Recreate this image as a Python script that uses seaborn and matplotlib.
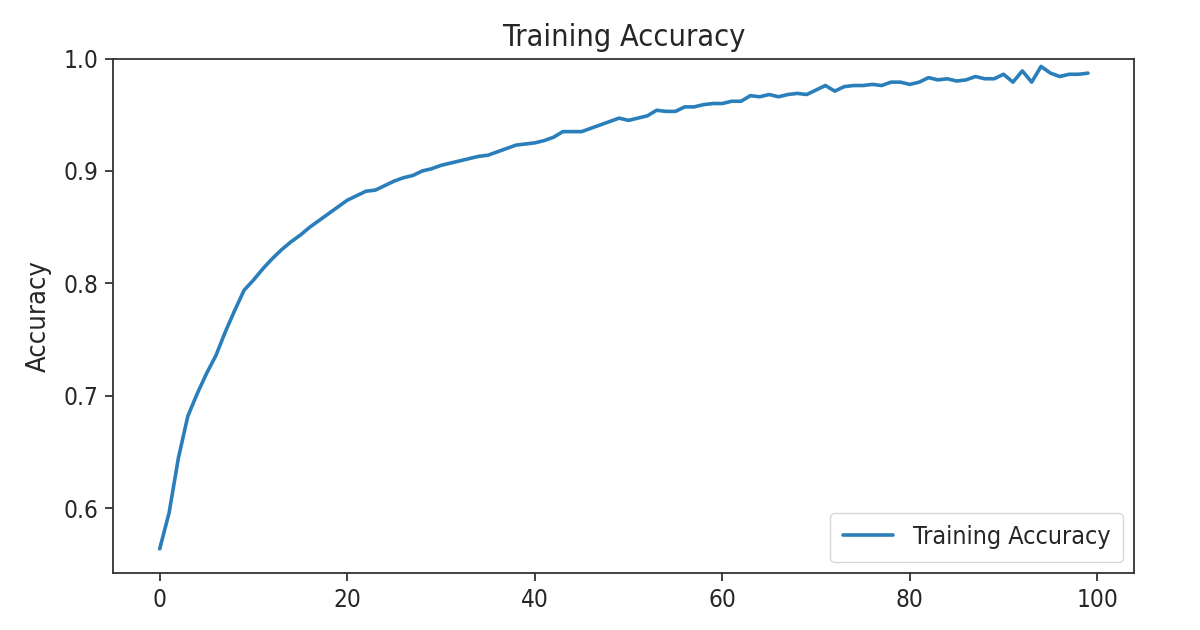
import numpy as np
import pandas as pd
import matplotlib
matplotlib.use("Agg")
import matplotlib.pyplot as plt
from matplotlib import font_manager
import seaborn as sns

# accuracy per epoch
epochs = list(range(100))
acc = [0.564, 0.596, 0.645, 0.682, 0.702, 0.720, 0.736, 0.757, 0.776, 0.794,
       0.803, 0.813, 0.822, 0.830, 0.837, 0.843, 0.850, 0.856, 0.862, 0.868,
       0.874, 0.878, 0.882, 0.883, 0.887, 0.891, 0.894, 0.896, 0.900, 0.902,
       0.905, 0.907, 0.909, 0.911, 0.913, 0.914, 0.917, 0.920, 0.923, 0.924,
       0.925, 0.927, 0.930, 0.935, 0.935, 0.935, 0.938, 0.941, 0.944, 0.947,
       0.945, 0.947, 0.949, 0.954, 0.953, 0.953, 0.957, 0.957, 0.959, 0.960,
       0.960, 0.962, 0.962, 0.967, 0.966, 0.968, 0.966, 0.968, 0.969, 0.968,
       0.972, 0.976, 0.971, 0.975, 0.976, 0.976, 0.977, 0.976, 0.979, 0.979,
       0.977, 0.979, 0.983, 0.981, 0.982, 0.980, 0.981, 0.984, 0.982, 0.982,
       0.986, 0.979, 0.989, 0.979, 0.993, 0.987, 0.984, 0.986, 0.986, 0.987]

df = pd.DataFrame({"Epoch": epochs, "Accuracy": acc})

sns.set_style("ticks")
plt.rcParams['font.family'] = ['DejaVu Sans']

# the reference text is a bit narrow, use DejaVu Sans Condensed if it is there
cond = [f.fname for f in font_manager.fontManager.ttflist
        if "DejaVuSansCondensed.ttf" in f.fname]
if cond:
    def fp(size):
        return font_manager.FontProperties(fname=cond[0], size=size)
    sizes = {"title": 22, "tick": 17.5, "label": 19.5, "legend": 18}
else:
    def fp(size):
        return font_manager.FontProperties(family="DejaVu Sans", size=size)
    sizes = {"title": 19.5, "tick": 15, "label": 17, "legend": 16.5}

fig = plt.figure(figsize=(12, 6.3), dpi=100)
ax = fig.add_axes([0.0944, 0.0905, 0.8509, 0.8166])

sns.lineplot(data=df, x="Epoch", y="Accuracy", ax=ax, color="#2a7fba",
             lw=2.6, label="Training Accuracy")

ax.set_ylim([min(ax.get_ylim()), 1])
ax.set_xlabel("")
ax.set_ylabel("Accuracy", fontproperties=fp(sizes["label"]), labelpad=9)
ax.set_title("Training Accuracy", fontproperties=fp(sizes["title"]), pad=9)
ax.set_xticks([0, 20, 40, 60, 80, 100])
ax.set_yticks([0.6, 0.7, 0.8, 0.9, 1.0])
ax.tick_params(length=5.5, width=1.3, pad=5, color="#333333")
for lab in ax.get_xticklabels() + ax.get_yticklabels():
    lab.set_fontproperties(fp(sizes["tick"]))
for s in ax.spines.values():
    s.set_linewidth(1.3)
    s.set_color("#333333")

ax.legend(loc="lower right", prop=fp(sizes["legend"]), framealpha=0.8,
          edgecolor="#cccccc", handlelength=2.0, borderpad=0.5,
          borderaxespad=0.45)

fig.savefig("out.png", dpi=100)
